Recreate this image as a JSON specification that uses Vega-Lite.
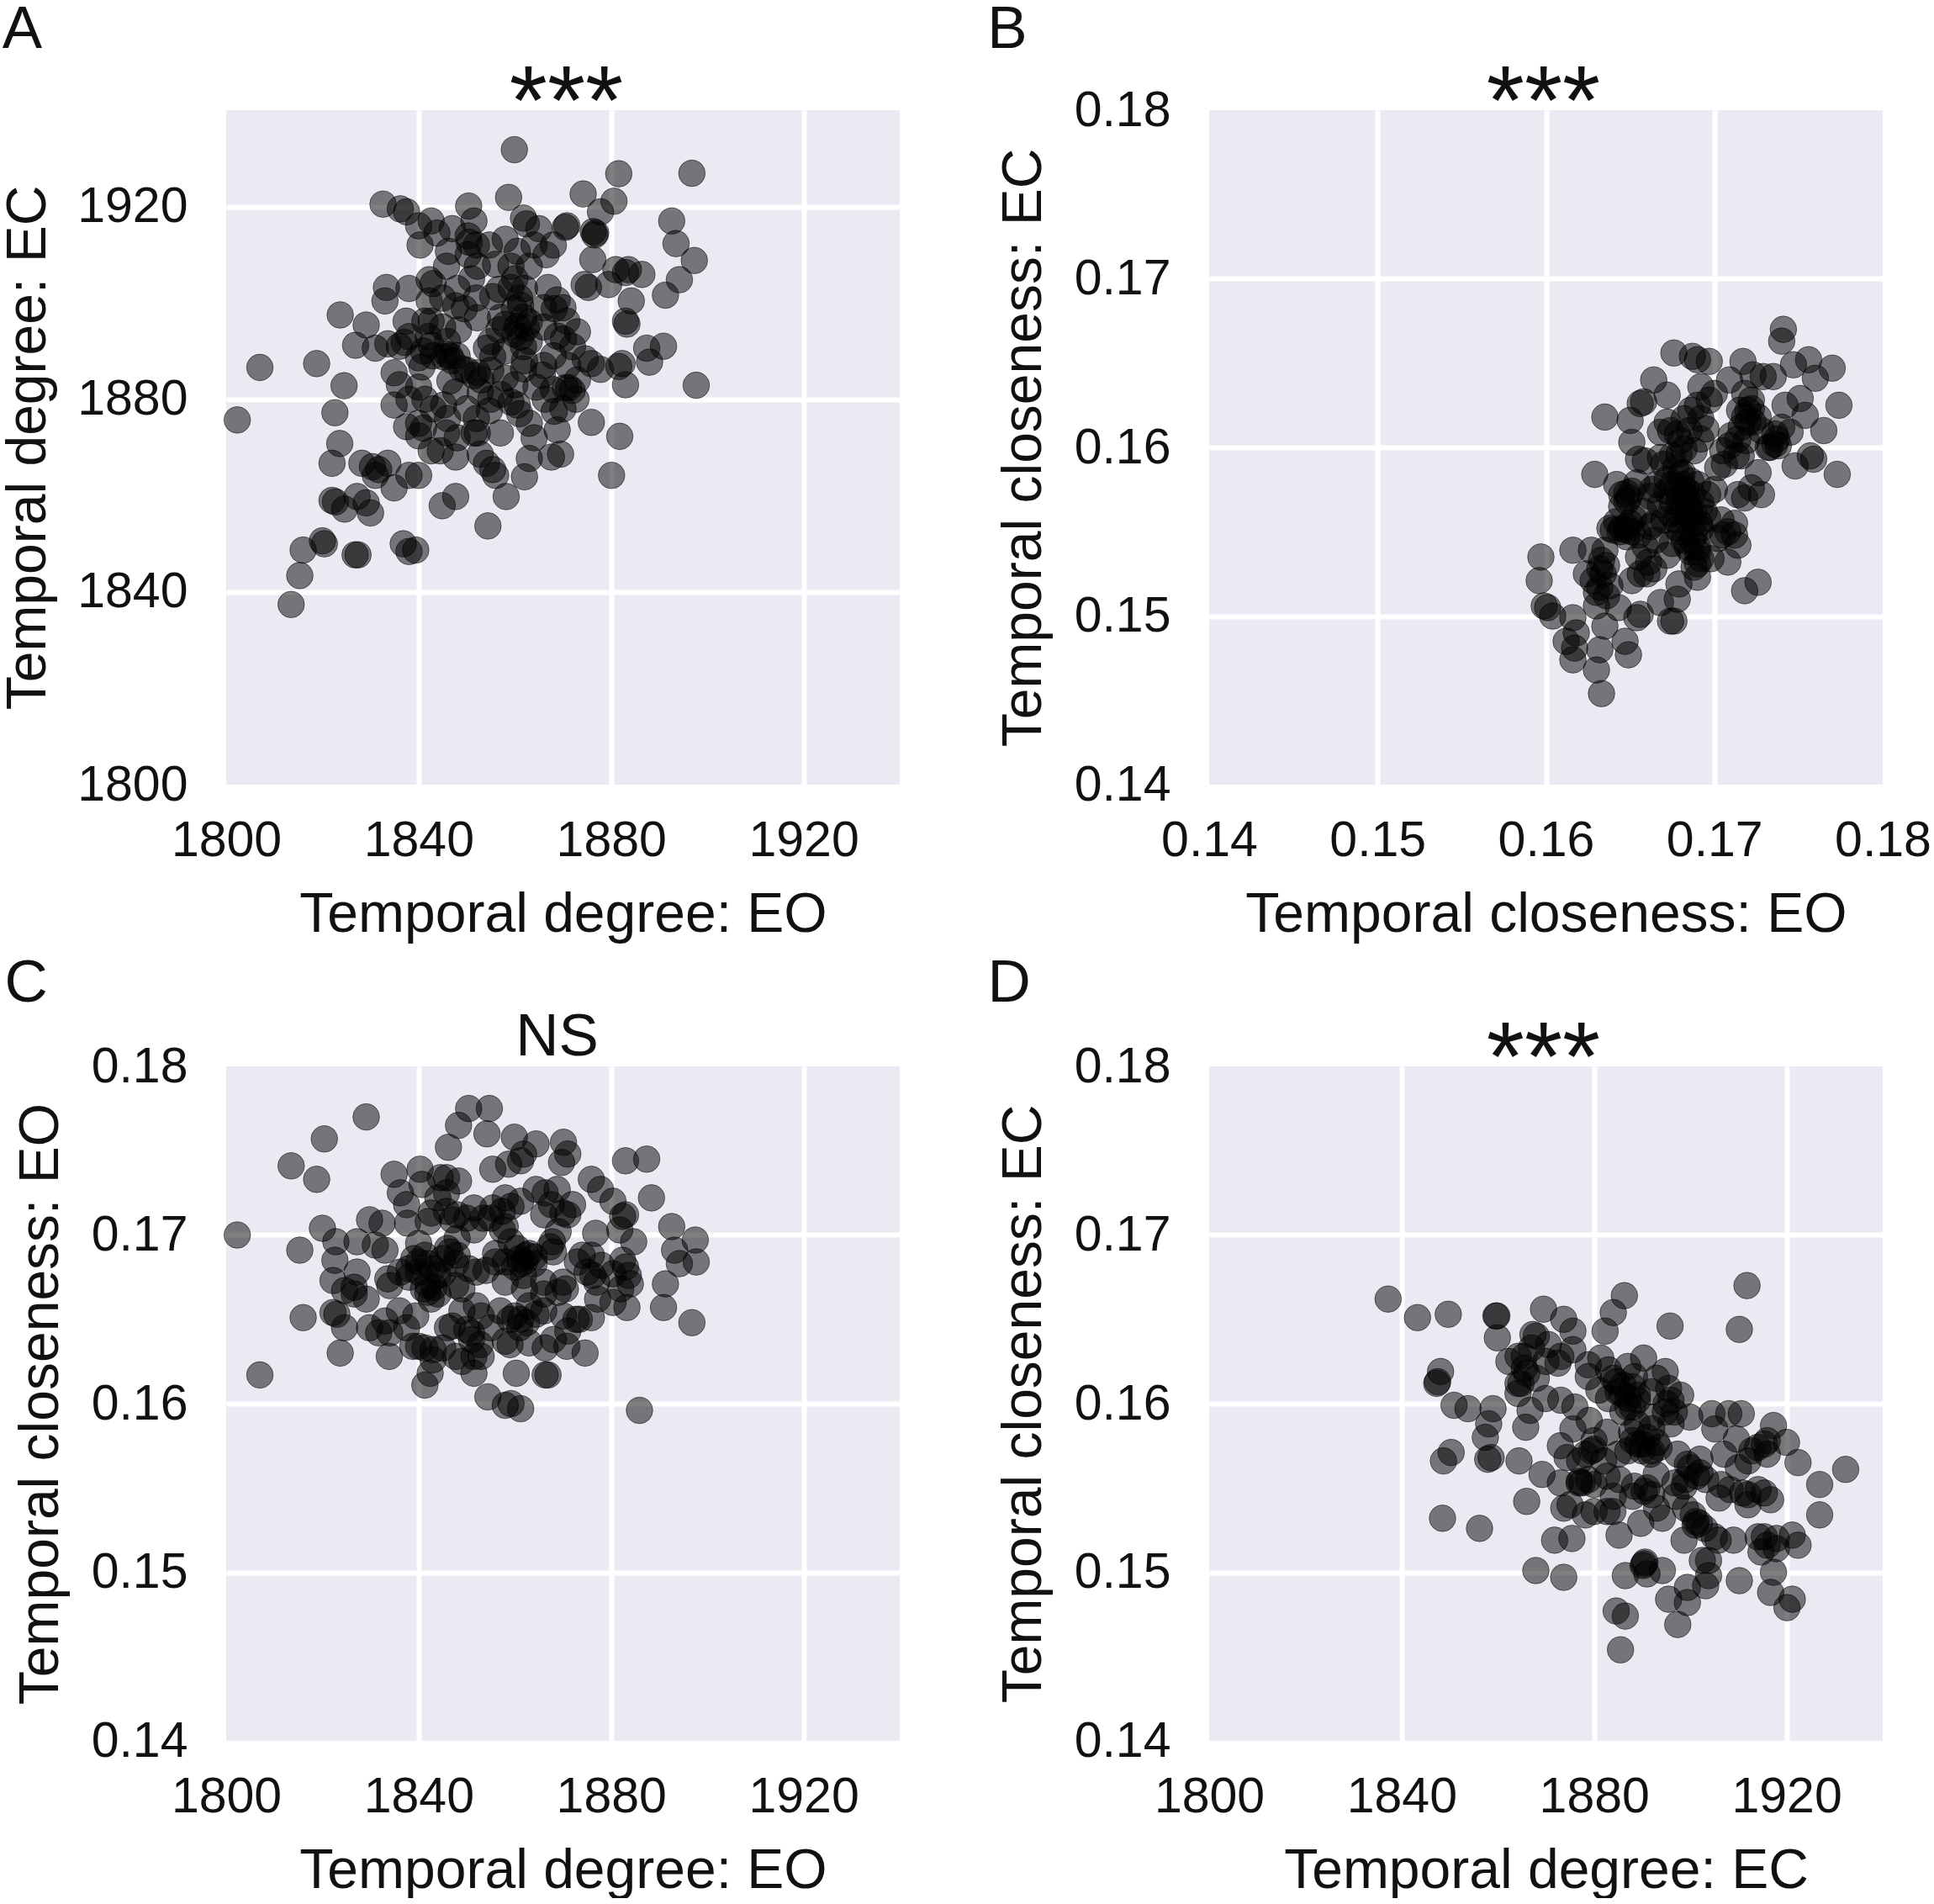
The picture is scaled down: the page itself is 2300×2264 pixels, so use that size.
{"$schema":"https://vega.github.io/schema/vega-lite/v6.json","background":"white","padding":{"left":0,"top":0,"right":0,"bottom":0},"autosize":{"type":"pad"},
"config":{"font":"Liberation Sans","view":{"fill":"#eaeaf2","stroke":null},"axis":{"domain":false,"ticks":false,"grid":true,"gridColor":"white","gridWidth":6,"labelFont":"Liberation Sans","labelFontSize":59,"labelColor":"#111","titleFont":"Liberation Sans","titleFontSize":66,"titleFontWeight":"normal","titleColor":"#111","labelOverlap":false,"labelBound":false,"labelFlush":false},"axisX":{"labelPadding":37,"titlePadding":26},"axisY":{"labelPadding":46,"titlePadding":26},"title":{"font":"Liberation Sans","fontWeight":"normal","color":"#111"},"circle":{"size":1000,"fill":"black","fillOpacity":0.5,"stroke":"black","strokeOpacity":0.5,"strokeWidth":1,"clip":false}},
"datasets":{
"a":[{"x":1802.3,"y":1875.7},{"x":1807,"y":1886.6},{"x":1813.5,"y":1837.4},{"x":1815.3,"y":1843.4},{"x":1816,"y":1848.7},{"x":1820,"y":1850.6},{"x":1820.4,"y":1850},{"x":1818.8,"y":1887.4},{"x":1823.7,"y":1897.5},{"x":1824.5,"y":1882.8},{"x":1822.6,"y":1877.2},{"x":1823.6,"y":1870.8},{"x":1822,"y":1866.7},{"x":1822,"y":1859},{"x":1822.7,"y":1858.7},{"x":1824.6,"y":1857.2},{"x":1827.2,"y":1859.8},{"x":1829.1,"y":1858.5},{"x":1830,"y":1856.4},{"x":1826.8,"y":1847.7},{"x":1827.4,"y":1847.7},{"x":1828.2,"y":1866.7},{"x":1830.4,"y":1866},{"x":1831.7,"y":1865.4},{"x":1833.6,"y":1866.7},{"x":1831,"y":1864.2},{"x":1834.9,"y":1861.6},{"x":1838,"y":1864.2},{"x":1840,"y":1864.2},{"x":1836.8,"y":1850},{"x":1838,"y":1848.4},{"x":1839.4,"y":1848.7},{"x":1844.9,"y":1857.9},{"x":1847.7,"y":1859.8},{"x":1854.4,"y":1853.7},{"x":1858.2,"y":1859.8},{"x":1862,"y":1863.9},{"x":1863,"y":1867.7},{"x":1880.1,"y":1864.2},{"x":1881.8,"y":1872.3},{"x":1875.9,"y":1875.2},{"x":1897.7,"y":1882.9},{"x":1883,"y":1883},{"x":1882.3,"y":1887.4},{"x":1881.6,"y":1886.8},{"x":1877.8,"y":1886.2},{"x":1875.9,"y":1887.4},{"x":1874.6,"y":1888.4},{"x":1888,"y":1887.7},{"x":1887.4,"y":1890.6},{"x":1890.9,"y":1891},{"x":1883.3,"y":1895.6},{"x":1883,"y":1896.2},{"x":1884.2,"y":1900.4},{"x":1879.5,"y":1903.8},{"x":1881,"y":1906.9},{"x":1883,"y":1906.3},{"x":1883.6,"y":1906.9},{"x":1886.4,"y":1905.9},{"x":1875.3,"y":1903.2},{"x":1874.4,"y":1903.8},{"x":1876.2,"y":1909},{"x":1876.8,"y":1914.5},{"x":1876.6,"y":1914.1},{"x":1876.3,"y":1914.8},{"x":1877.8,"y":1918.9},{"x":1880.6,"y":1921.1},{"x":1881.6,"y":1926.8},{"x":1874.2,"y":1922.6},{"x":1896.8,"y":1926.9},{"x":1892.6,"y":1917},{"x":1893.5,"y":1912.3},{"x":1897.3,"y":1908.8},{"x":1894.2,"y":1904.8},{"x":1891.3,"y":1901.6},{"x":1859.9,"y":1931.8},{"x":1858.7,"y":1921.9},{"x":1850.4,"y":1920.1},{"x":1832.6,"y":1920.5},{"x":1836.2,"y":1919.5},{"x":1837.5,"y":1918.9},{"x":1840,"y":1916},{"x":1842.6,"y":1917},{"x":1840.3,"y":1912},{"x":1843.8,"y":1914.5},{"x":1847,"y":1915.4},{"x":1851.5,"y":1917},{"x":1850.3,"y":1913.9},{"x":1850.5,"y":1912.6},{"x":1850.3,"y":1910},{"x":1846.2,"y":1910.7},{"x":1845.8,"y":1907.6},{"x":1854.7,"y":1912},{"x":1852.2,"y":1907.6},{"x":1858,"y":1913.2},{"x":1860.5,"y":1910.7},{"x":1861.8,"y":1917.6},{"x":1862.4,"y":1916.4},{"x":1865,"y":1915.4},{"x":1866.5,"y":1910},{"x":1863,"y":1907.6},{"x":1859.2,"y":1907.6},{"x":1870.8,"y":1916},{"x":1870.5,"y":1915.7},{"x":1866.9,"y":1903.2},{"x":1868.8,"y":1900.6},{"x":1868.2,"y":1898.8},{"x":1870.8,"y":1896.2},{"x":1870.1,"y":1892.5},{"x":1868.8,"y":1893.1},{"x":1872,"y":1890.9},{"x":1859.2,"y":1903.2},{"x":1856.7,"y":1902.8},{"x":1855.4,"y":1901.3},{"x":1861.2,"y":1899.5},{"x":1861.8,"y":1897},{"x":1860.5,"y":1895.1},{"x":1862.4,"y":1894.8},{"x":1861.2,"y":1892.9},{"x":1863,"y":1896},{"x":1859.9,"y":1898.8},{"x":1861.8,"y":1890.9},{"x":1860,"y":1893.5},{"x":1863,"y":1892},{"x":1858,"y":1895.5},{"x":1833.3,"y":1903.2},{"x":1833,"y":1900.4},{"x":1842.2,"y":1904.8},{"x":1843,"y":1904},{"x":1842.2,"y":1900.4},{"x":1842.6,"y":1896.2},{"x":1841.3,"y":1896.2},{"x":1837.4,"y":1896.2},{"x":1829.1,"y":1895.4},{"x":1826.9,"y":1891.2},{"x":1831,"y":1890.6},{"x":1833.6,"y":1891.5},{"x":1837,"y":1891.8},{"x":1834.9,"y":1885.5},{"x":1840,"y":1888.6},{"x":1840.7,"y":1886.7},{"x":1842.6,"y":1891.2},{"x":1845.8,"y":1889.4},{"x":1845.2,"y":1888.8},{"x":1846.5,"y":1889},{"x":1852.2,"y":1885.5},{"x":1851.5,"y":1884.9},{"x":1871.2,"y":1882.4},{"x":1871.9,"y":1881.8},{"x":1870.5,"y":1882.4},{"x":1834.9,"y":1878.8},{"x":1837.5,"y":1874.3},{"x":1840,"y":1872.4},{"x":1842.6,"y":1869.3},{"x":1844.5,"y":1869.3},{"x":1847.7,"y":1868},{"x":1845.8,"y":1873},{"x":1852.2,"y":1873},{"x":1851.5,"y":1873},{"x":1852.8,"y":1868.6},{"x":1854.1,"y":1866.7},{"x":1855.4,"y":1865.4},{"x":1856,"y":1864.2},{"x":1869.5,"y":1868.6},{"x":1867.6,"y":1868},{"x":1868.8,"y":1873.6},{"x":1872.7,"y":1880},{"x":1863,"y":1875},{"x":1860.5,"y":1878.8},{"x":1859.2,"y":1879.4},{"x":1854.7,"y":1877.6},{"x":1852.8,"y":1881.5},{"x":1847.7,"y":1881.5},{"x":1845.2,"y":1878.8},{"x":1841.3,"y":1880},{"x":1840,"y":1882.5},{"x":1846.5,"y":1883.8},{"x":1849,"y":1886.3},{"x":1855.4,"y":1888.8},{"x":1854.1,"y":1890.6},{"x":1858,"y":1884.4},{"x":1861.8,"y":1886.3},{"x":1864.4,"y":1882.5},{"x":1865.7,"y":1885},{"x":1866.3,"y":1880},{"x":1868.2,"y":1877.5},{"x":1847.7,"y":1899.4},{"x":1848.3,"y":1894.4},{"x":1852.2,"y":1896.9},{"x":1849.5,"y":1898.8},{"x":1856.7,"y":1894.4},{"x":1845,"y":1895},{"x":1838,"y":1893},{"x":1842,"y":1893},{"x":1846,"y":1892},{"x":1843,"y":1889},{"x":1841,"y":1890},{"x":1848,"y":1889},{"x":1847,"y":1888},{"x":1850,"y":1886},{"x":1853,"y":1884},{"x":1855,"y":1886},{"x":1858,"y":1890},{"x":1855,"y":1892},{"x":1857,"y":1897},{"x":1861,"y":1901},{"x":1862,"y":1903},{"x":1866,"y":1899},{"x":1866,"y":1895},{"x":1870,"y":1899},{"x":1873,"y":1894},{"x":1868,"y":1889},{"x":1871,"y":1887},{"x":1873,"y":1884},{"x":1866,"y":1887},{"x":1862,"y":1888},{"x":1860,"y":1883},{"x":1857,"y":1881},{"x":1855,"y":1880},{"x":1850,"y":1878},{"x":1846,"y":1876},{"x":1843,"y":1878},{"x":1841,"y":1874},{"x":1838,"y":1880},{"x":1836,"y":1883},{"x":1840,"y":1875},{"x":1848,"y":1872},{"x":1852,"y":1876},{"x":1857,"y":1873},{"x":1861,"y":1877},{"x":1864,"y":1872},{"x":1868,"y":1882},{"x":1870,"y":1878},{"x":1856,"y":1908},{"x":1860,"y":1905},{"x":1864,"y":1912},{"x":1868,"y":1912},{"x":1852,"y":1912},{"x":1848,"y":1903},{"x":1845,"y":1901},{"x":1852,"y":1901},{"x":1838,"y":1903},{"x":1836,"y":1891},{"x":1851,"y":1905}],
"b":[{"x":0.1597,"y":0.1535},{"x":0.1596,"y":0.1521},{"x":0.1599,"y":0.1506},{"x":0.1601,"y":0.1505},{"x":0.1604,"y":0.15},{"x":0.1616,"y":0.1539},{"x":0.1635,"y":0.1618},{"x":0.1629,"y":0.1584},{"x":0.1651,"y":0.1603},{"x":0.165,"y":0.1616},{"x":0.1656,"y":0.1626},{"x":0.1658,"y":0.1627},{"x":0.1664,"y":0.164},{"x":0.1672,"y":0.1631},{"x":0.1676,"y":0.1656},{"x":0.1687,"y":0.1654},{"x":0.169,"y":0.1652},{"x":0.1697,"y":0.1651},{"x":0.1692,"y":0.1636},{"x":0.17,"y":0.1632},{"x":0.1709,"y":0.164},{"x":0.1717,"y":0.1651},{"x":0.1723,"y":0.1643},{"x":0.1729,"y":0.1642},{"x":0.1735,"y":0.1642},{"x":0.1741,"y":0.167},{"x":0.174,"y":0.1663},{"x":0.1747,"y":0.1649},{"x":0.1756,"y":0.1652},{"x":0.176,"y":0.1641},{"x":0.177,"y":0.1647},{"x":0.1774,"y":0.1625},{"x":0.1765,"y":0.161},{"x":0.1773,"y":0.1584},{"x":0.1759,"y":0.1593},{"x":0.1757,"y":0.1595},{"x":0.1748,"y":0.1589},{"x":0.1754,"y":0.1619},{"x":0.1751,"y":0.1629},{"x":0.1742,"y":0.1625},{"x":0.174,"y":0.1612},{"x":0.1745,"y":0.1609},{"x":0.1736,"y":0.1602},{"x":0.1732,"y":0.16},{"x":0.1737,"y":0.1605},{"x":0.1726,"y":0.1618},{"x":0.1726,"y":0.152},{"x":0.1718,"y":0.1515},{"x":0.1633,"y":0.1454},{"x":0.163,"y":0.1468},{"x":0.1632,"y":0.148},{"x":0.1647,"y":0.1485},{"x":0.1649,"y":0.1477},{"x":0.1616,"y":0.1474},{"x":0.1617,"y":0.1481},{"x":0.1612,"y":0.1485},{"x":0.1618,"y":0.149},{"x":0.1616,"y":0.1499},{"x":0.1635,"y":0.1494},{"x":0.1643,"y":0.1505},{"x":0.163,"y":0.1506},{"x":0.1654,"y":0.1499},{"x":0.1656,"y":0.1501},{"x":0.1668,"y":0.1508},{"x":0.1674,"y":0.1497},{"x":0.1676,"y":0.1497},{"x":0.1678,"y":0.151},{"x":0.1679,"y":0.1519},{"x":0.169,"y":0.1523},{"x":0.163,"y":0.1514},{"x":0.1628,"y":0.1521},{"x":0.1632,"y":0.1528},{"x":0.1636,"y":0.153},{"x":0.1624,"y":0.1525},{"x":0.1627,"y":0.1539},{"x":0.1635,"y":0.1539},{"x":0.1633,"y":0.1533},{"x":0.1651,"y":0.1521},{"x":0.166,"y":0.1525},{"x":0.1656,"y":0.1525},{"x":0.1648,"y":0.1547},{"x":0.1638,"y":0.1552},{"x":0.164,"y":0.1551},{"x":0.1645,"y":0.1552},{"x":0.1642,"y":0.1556},{"x":0.1648,"y":0.1553},{"x":0.1652,"y":0.1558},{"x":0.1645,"y":0.1572},{"x":0.1648,"y":0.1573},{"x":0.1651,"y":0.1574},{"x":0.1642,"y":0.1578},{"x":0.1654,"y":0.1579},{"x":0.1648,"y":0.1568},{"x":0.1655,"y":0.1593},{"x":0.1659,"y":0.1592},{"x":0.1663,"y":0.1575},{"x":0.1668,"y":0.1566},{"x":0.1672,"y":0.1581},{"x":0.1675,"y":0.1568},{"x":0.1677,"y":0.1557},{"x":0.1679,"y":0.1561},{"x":0.168,"y":0.155},{"x":0.1682,"y":0.1572},{"x":0.1685,"y":0.1565},{"x":0.1688,"y":0.1555},{"x":0.1687,"y":0.1545},{"x":0.1684,"y":0.1541},{"x":0.169,"y":0.1538},{"x":0.1692,"y":0.1534},{"x":0.169,"y":0.1531},{"x":0.1698,"y":0.1534},{"x":0.1696,"y":0.1572},{"x":0.1692,"y":0.1567},{"x":0.169,"y":0.1578},{"x":0.1686,"y":0.158},{"x":0.168,"y":0.1584},{"x":0.1677,"y":0.1588},{"x":0.1679,"y":0.1596},{"x":0.1675,"y":0.1595},{"x":0.1682,"y":0.1599},{"x":0.1668,"y":0.1594},{"x":0.1668,"y":0.1609},{"x":0.1674,"y":0.161},{"x":0.1678,"y":0.1608},{"x":0.1686,"y":0.1622},{"x":0.169,"y":0.1625},{"x":0.1692,"y":0.1617},{"x":0.1695,"y":0.1611},{"x":0.1697,"y":0.1628},{"x":0.1705,"y":0.1598},{"x":0.1709,"y":0.1601},{"x":0.1713,"y":0.1595},{"x":0.1714,"y":0.1605},{"x":0.1716,"y":0.1612},{"x":0.1718,"y":0.1618},{"x":0.172,"y":0.1622},{"x":0.1722,"y":0.1628},{"x":0.1718,"y":0.1632},{"x":0.1723,"y":0.1615},{"x":0.1726,"y":0.1585},{"x":0.1722,"y":0.1576},{"x":0.1728,"y":0.1572},{"x":0.1718,"y":0.157},{"x":0.1714,"y":0.1572},{"x":0.1712,"y":0.1555},{"x":0.1708,"y":0.155},{"x":0.1705,"y":0.1548},{"x":0.1702,"y":0.1546},{"x":0.1714,"y":0.1542},{"x":0.1708,"y":0.1532},{"x":0.1702,"y":0.1588},{"x":0.17,"y":0.1575},{"x":0.1664,"y":0.1555},{"x":0.1659,"y":0.1541},{"x":0.1664,"y":0.1528},{"x":0.1672,"y":0.1536},{"x":0.1675,"y":0.1543},{"x":0.1662,"y":0.1571},{"x":0.1682,"y":0.1563},{"x":0.1684,"y":0.1556},{"x":0.1687,"y":0.1572},{"x":0.1679,"y":0.1569},{"x":0.1683,"y":0.1575},{"x":0.1688,"y":0.1561},{"x":0.1691,"y":0.1555},{"x":0.1681,"y":0.1578},{"x":0.1645,"y":0.1565},{"x":0.1649,"y":0.157},{"x":0.165,"y":0.1555},{"x":0.1644,"y":0.155},{"x":0.1648,"y":0.1551},{"x":0.1651,"y":0.155},{"x":0.1655,"y":0.1548},{"x":0.1658,"y":0.1562},{"x":0.1662,"y":0.1553},{"x":0.1666,"y":0.1578},{"x":0.167,"y":0.159},{"x":0.1672,"y":0.1574},{"x":0.1675,"y":0.1578},{"x":0.1678,"y":0.1575},{"x":0.1681,"y":0.1585},{"x":0.1684,"y":0.1569},{"x":0.1686,"y":0.1561},{"x":0.1688,"y":0.1548},{"x":0.1692,"y":0.1552},{"x":0.1694,"y":0.1562},{"x":0.1696,"y":0.1558},{"x":0.1678,"y":0.1552},{"x":0.1682,"y":0.1545},{"x":0.1686,"y":0.1538},{"x":0.1688,"y":0.1529},{"x":0.169,"y":0.1541},{"x":0.1674,"y":0.1561},{"x":0.167,"y":0.1557},{"x":0.1665,"y":0.1545},{"x":0.1661,"y":0.1532},{"x":0.1655,"y":0.1535},{"x":0.1638,"y":0.1518},{"x":0.1636,"y":0.1512},{"x":0.1634,"y":0.1525},{"x":0.1632,"y":0.1517},{"x":0.1706,"y":0.159},{"x":0.171,"y":0.1607},{"x":0.1716,"y":0.1595},{"x":0.1719,"y":0.1604},{"x":0.1722,"y":0.1623},{"x":0.172,"y":0.1615},{"x":0.1715,"y":0.1622},{"x":0.1728,"y":0.161},{"x":0.1733,"y":0.16},{"x":0.1736,"y":0.1608},{"x":0.1738,"y":0.1601},{"x":0.1704,"y":0.1557},{"x":0.1712,"y":0.1548},{"x":0.1685,"y":0.161},{"x":0.1688,"y":0.1598},{"x":0.1692,"y":0.1605},{"x":0.1682,"y":0.1617},{"x":0.1672,"y":0.1615},{"x":0.168,"y":0.1604}],
"c":[{"x":1802.3,"y":0.17},{"x":1807,"y":0.1617},{"x":1813.5,"y":0.1741},{"x":1815.3,"y":0.1691},{"x":1816,"y":0.1651},{"x":1818.8,"y":0.1733},{"x":1820.4,"y":0.1757},{"x":1829.1,"y":0.177},{"x":1820,"y":0.1704},{"x":1822.8,"y":0.1696},{"x":1822.6,"y":0.1685},{"x":1822.2,"y":0.1673},{"x":1822.2,"y":0.1654},{"x":1823.7,"y":0.163},{"x":1824.6,"y":0.1645},{"x":1823,"y":0.1653},{"x":1824.6,"y":0.1667},{"x":1826.6,"y":0.1669},{"x":1827.2,"y":0.1678},{"x":1827.2,"y":0.1696},{"x":1826.6,"y":0.1665},{"x":1829.1,"y":0.1662},{"x":1829.8,"y":0.1709},{"x":1832.4,"y":0.1707},{"x":1831,"y":0.1694},{"x":1833,"y":0.1691},{"x":1829.8,"y":0.1645},{"x":1831.7,"y":0.1642},{"x":1833,"y":0.1649},{"x":1833.9,"y":0.1628},{"x":1833.6,"y":0.1674},{"x":1834,"y":0.167},{"x":1834.9,"y":0.1736},{"x":1836.2,"y":0.1725},{"x":1837.5,"y":0.1718},{"x":1837.7,"y":0.1707},{"x":1840.3,"y":0.1739},{"x":1840.7,"y":0.173},{"x":1842.6,"y":0.1713},{"x":1845.8,"y":0.1734},{"x":1844.5,"y":0.1734},{"x":1848.3,"y":0.1732},{"x":1845.8,"y":0.1725},{"x":1845.8,"y":0.1714},{"x":1847,"y":0.1709},{"x":1846.2,"y":0.1752},{"x":1848.3,"y":0.1765},{"x":1850.4,"y":0.1775},{"x":1854.7,"y":0.1775},{"x":1854.2,"y":0.176},{"x":1859.9,"y":0.1758},{"x":1864.4,"y":0.1754},{"x":1861.8,"y":0.1748},{"x":1870.1,"y":0.1755},{"x":1871,"y":0.1748},{"x":1869.7,"y":0.1743},{"x":1861.2,"y":0.1744},{"x":1858.7,"y":0.1742},{"x":1855.4,"y":0.1739},{"x":1875.9,"y":0.1733},{"x":1877.8,"y":0.1727},{"x":1880.4,"y":0.172},{"x":1883,"y":0.1744},{"x":1887.4,"y":0.1745},{"x":1888.4,"y":0.1722},{"x":1883,"y":0.1712},{"x":1882.4,"y":0.1711},{"x":1881.8,"y":0.1703},{"x":1884.7,"y":0.1696},{"x":1892.6,"y":0.1705},{"x":1897.5,"y":0.1697},{"x":1893.2,"y":0.1691},{"x":1894.2,"y":0.1683},{"x":1897.7,"y":0.1684},{"x":1891.3,"y":0.1671},{"x":1890.9,"y":0.1657},{"x":1896.8,"y":0.1648},{"x":1885.9,"y":0.1596},{"x":1883.3,"y":0.1657},{"x":1880.4,"y":0.166},{"x":1877.2,"y":0.1662},{"x":1875.9,"y":0.1651},{"x":1874.6,"y":0.163},{"x":1870.8,"y":0.1634},{"x":1873.4,"y":0.165},{"x":1866.9,"y":0.1617},{"x":1866.3,"y":0.1617},{"x":1866.3,"y":0.1633},{"x":1860.3,"y":0.1618},{"x":1861.2,"y":0.1597},{"x":1859.2,"y":0.16},{"x":1858,"y":0.1599},{"x":1854.4,"y":0.1604},{"x":1851.5,"y":0.1618},{"x":1841.3,"y":0.1611},{"x":1842.4,"y":0.1618},{"x":1840,"y":0.1634},{"x":1841.3,"y":0.1633},{"x":1843,"y":0.1632},{"x":1838.8,"y":0.1634},{"x":1847.7,"y":0.1628},{"x":1849,"y":0.1625},{"x":1851,"y":0.1642},{"x":1852.8,"y":0.1635},{"x":1851.5,"y":0.1628},{"x":1850,"y":0.1644},{"x":1853,"y":0.1652},{"x":1847,"y":0.1646},{"x":1858,"y":0.1637},{"x":1860,"y":0.1652},{"x":1861.2,"y":0.165},{"x":1862.4,"y":0.1648},{"x":1863,"y":0.1636},{"x":1864.4,"y":0.1653},{"x":1859,"y":0.165},{"x":1866,"y":0.1655},{"x":1870.1,"y":0.1652},{"x":1872.7,"y":0.165},{"x":1869,"y":0.1666},{"x":1870.5,"y":0.1668},{"x":1875,"y":0.1678},{"x":1876.2,"y":0.1676},{"x":1875.9,"y":0.1688},{"x":1876.8,"y":0.1701},{"x":1873,"y":0.1684},{"x":1868,"y":0.169},{"x":1867.3,"y":0.1693},{"x":1864,"y":0.1683},{"x":1862.4,"y":0.1688},{"x":1861.2,"y":0.1683},{"x":1860.5,"y":0.1692},{"x":1859.2,"y":0.1696},{"x":1861.8,"y":0.1676},{"x":1858,"y":0.1672},{"x":1856,"y":0.1689},{"x":1857.4,"y":0.1703},{"x":1854,"y":0.1679},{"x":1850.4,"y":0.168},{"x":1846.5,"y":0.169},{"x":1847.7,"y":0.1683},{"x":1845,"y":0.1686},{"x":1841.3,"y":0.1688},{"x":1839,"y":0.1686},{"x":1838,"y":0.168},{"x":1840,"y":0.1678},{"x":1842,"y":0.1683},{"x":1836.2,"y":0.1678},{"x":1841.9,"y":0.1666},{"x":1842.6,"y":0.1662},{"x":1843.2,"y":0.1669},{"x":1844,"y":0.1676},{"x":1847.7,"y":0.167},{"x":1839.4,"y":0.1652},{"x":1837.5,"y":0.1645},{"x":1851.5,"y":0.1703},{"x":1855.4,"y":0.1716},{"x":1851.5,"y":0.1716},{"x":1853.4,"y":0.171},{"x":1857.4,"y":0.1714},{"x":1859.2,"y":0.1717},{"x":1861.2,"y":0.172},{"x":1864.4,"y":0.1727},{"x":1866.3,"y":0.1725},{"x":1867.6,"y":0.1718},{"x":1868.8,"y":0.1727},{"x":1870,"y":0.1713},{"x":1871,"y":0.1712},{"x":1867.8,"y":0.1696},{"x":1882.4,"y":0.1685},{"x":1883,"y":0.1681},{"x":1883.6,"y":0.1676},{"x":1880.4,"y":0.1677},{"x":1861,"y":0.1686},{"x":1862,"y":0.1684},{"x":1863,"y":0.1689},{"x":1860,"y":0.1681},{"x":1864,"y":0.1687},{"x":1858,"y":0.1684},{"x":1852,"y":0.1678},{"x":1856,"y":0.1684},{"x":1843,"y":0.168},{"x":1845,"y":0.1677},{"x":1841,"y":0.1668},{"x":1842,"y":0.167},{"x":1844,"y":0.1665},{"x":1840,"y":0.1684},{"x":1838,"y":0.1675},{"x":1846,"y":0.1692},{"x":1848,"y":0.1688},{"x":1849,"y":0.1668},{"x":1849,"y":0.1655},{"x":1851,"y":0.1638},{"x":1853,"y":0.1628},{"x":1855,"y":0.1645},{"x":1859,"y":0.1635},{"x":1861,"y":0.1645},{"x":1863,"y":0.1658},{"x":1862,"y":0.1668},{"x":1866,"y":0.1672},{"x":1870,"y":0.1672},{"x":1866,"y":0.1712},{"x":1869,"y":0.1702},{"x":1872,"y":0.1718},{"x":1874,"y":0.1688},{"x":1878,"y":0.1682},{"x":1877,"y":0.1672},{"x":1882,"y":0.1668},{"x":1884,"y":0.1671},{"x":1836,"y":0.1655},{"x":1834,"y":0.1642},{"x":1840,"y":0.1695},{"x":1842,"y":0.1708},{"x":1848,"y":0.1698},{"x":1850,"y":0.171},{"x":1844,"y":0.1722},{"x":1848,"y":0.1712},{"x":1855,"y":0.171},{"x":1858,"y":0.1705},{"x":1858,"y":0.1722},{"x":1866,"y":0.1665},{"x":1871,"y":0.1643},{"x":1868,"y":0.1638},{"x":1846,"y":0.1645},{"x":1845,"y":0.1633},{"x":1843,"y":0.1626},{"x":1852,"y":0.1658},{"x":1857,"y":0.1655}],
"d":[{"x":1837.2,"y":0.1662},{"x":1843.3,"y":0.1651},{"x":1849.7,"y":0.1653},{"x":1859.6,"y":0.1652},{"x":1859.8,"y":0.1652},{"x":1859.9,"y":0.1639},{"x":1848.1,"y":0.1619},{"x":1847.5,"y":0.1613},{"x":1847.3,"y":0.1612},{"x":1850.9,"y":0.1599},{"x":1853.8,"y":0.1597},{"x":1859,"y":0.1597},{"x":1858.1,"y":0.1588},{"x":1857.4,"y":0.158},{"x":1850.3,"y":0.1571},{"x":1848.7,"y":0.1566},{"x":1857.9,"y":0.1567},{"x":1858.6,"y":0.1568},{"x":1848.5,"y":0.1532},{"x":1856.2,"y":0.1526},{"x":1864.4,"y":0.1566},{"x":1865.8,"y":0.1586},{"x":1866.7,"y":0.1596},{"x":1869.9,"y":0.1603},{"x":1873.1,"y":0.1602},{"x":1864.2,"y":0.1606},{"x":1864.8,"y":0.1612},{"x":1864.2,"y":0.1612},{"x":1865.5,"y":0.1621},{"x":1865.5,"y":0.1628},{"x":1864.2,"y":0.1628},{"x":1862.3,"y":0.1625},{"x":1869.5,"y":0.1656},{"x":1867.3,"y":0.1641},{"x":1868,"y":0.164},{"x":1870.5,"y":0.1635},{"x":1873.1,"y":0.1628},{"x":1872.5,"y":0.1624},{"x":1873.7,"y":0.165},{"x":1875.6,"y":0.1643},{"x":1875.6,"y":0.1632},{"x":1882.3,"y":0.1643},{"x":1884,"y":0.1654},{"x":1886.3,"y":0.1664},{"x":1895.8,"y":0.1646},{"x":1910.2,"y":0.1644},{"x":1911.8,"y":0.167},{"x":1932.3,"y":0.1561},{"x":1926.9,"y":0.1552},{"x":1926.9,"y":0.1534},{"x":1922.4,"y":0.1565},{"x":1920,"y":0.1577},{"x":1917.3,"y":0.1587},{"x":1916,"y":0.1578},{"x":1915.4,"y":0.1576},{"x":1912.8,"y":0.1572},{"x":1908,"y":0.1594},{"x":1910.6,"y":0.1594},{"x":1904.5,"y":0.1594},{"x":1905.1,"y":0.1585},{"x":1909.6,"y":0.1579},{"x":1907,"y":0.157},{"x":1899.9,"y":0.1592},{"x":1921.2,"y":0.1522},{"x":1922.4,"y":0.1516},{"x":1917.9,"y":0.152},{"x":1914.1,"y":0.1521},{"x":1915.4,"y":0.1521},{"x":1914.7,"y":0.1512},{"x":1916,"y":0.1516},{"x":1917.9,"y":0.1514},{"x":1917.3,"y":0.15},{"x":1916.7,"y":0.1488},{"x":1921.2,"y":0.1484},{"x":1920.1,"y":0.1479},{"x":1910.2,"y":0.1495},{"x":1903.2,"y":0.1492},{"x":1903.8,"y":0.1507},{"x":1902.5,"y":0.1507},{"x":1903.8,"y":0.1498},{"x":1899.4,"y":0.1491},{"x":1899.4,"y":0.1482},{"x":1895.5,"y":0.1484},{"x":1897.4,"y":0.1469},{"x":1885.5,"y":0.1454},{"x":1884.6,"y":0.1477},{"x":1886.5,"y":0.1474},{"x":1886.5,"y":0.1498},{"x":1890.4,"y":0.1505},{"x":1890.6,"y":0.1506},{"x":1890.2,"y":0.1504},{"x":1894.2,"y":0.1501},{"x":1891,"y":0.1499},{"x":1867.9,"y":0.1501},{"x":1873.7,"y":0.1497},{"x":1871.8,"y":0.1519},{"x":1875.4,"y":0.152},{"x":1866,"y":0.1542},{"x":1869.2,"y":0.1558},{"x":1873,"y":0.1553},{"x":1873.7,"y":0.1538},{"x":1875,"y":0.154},{"x":1878.2,"y":0.1534},{"x":1885.2,"y":0.1522},{"x":1882.7,"y":0.1536},{"x":1883.9,"y":0.1536},{"x":1889.7,"y":0.1529},{"x":1894.2,"y":0.1532},{"x":1876.9,"y":0.1553},{"x":1877.5,"y":0.1553},{"x":1878.8,"y":0.1555},{"x":1882.7,"y":0.1557},{"x":1885.2,"y":0.1555},{"x":1888.4,"y":0.1551},{"x":1891,"y":0.155},{"x":1890.4,"y":0.1548},{"x":1896.8,"y":0.1553},{"x":1898.7,"y":0.1551},{"x":1901.3,"y":0.1557},{"x":1903.2,"y":0.1555},{"x":1900.6,"y":0.1534},{"x":1901.2,"y":0.153},{"x":1901.9,"y":0.1529},{"x":1898.7,"y":0.1519},{"x":1905.8,"y":0.1519},{"x":1909,"y":0.1519},{"x":1906.4,"y":0.1552},{"x":1908.3,"y":0.1549},{"x":1910.9,"y":0.1547},{"x":1914.1,"y":0.1549},{"x":1915.4,"y":0.1547},{"x":1916.7,"y":0.1543},{"x":1879.5,"y":0.1572},{"x":1878.2,"y":0.157},{"x":1874.4,"y":0.1568},{"x":1875.6,"y":0.1585},{"x":1878.8,"y":0.1616},{"x":1881.4,"y":0.1627},{"x":1878.8,"y":0.1623},{"x":1885.8,"y":0.1606},{"x":1887.1,"y":0.1603},{"x":1884.6,"y":0.1613},{"x":1888.4,"y":0.1616},{"x":1890.3,"y":0.1627},{"x":1894.8,"y":0.1619},{"x":1895.5,"y":0.1609},{"x":1894.8,"y":0.1595},{"x":1896.7,"y":0.1595},{"x":1891,"y":0.158},{"x":1889.1,"y":0.1576},{"x":1891.7,"y":0.157},{"x":1887.8,"y":0.1583},{"x":1893.5,"y":0.1574},{"x":1892.9,"y":0.1558},{"x":1882.7,"y":0.1583},{"x":1899.4,"y":0.1564},{"x":1897.4,"y":0.157},{"x":1888,"y":0.1598},{"x":1889,"y":0.1605},{"x":1886,"y":0.1595},{"x":1892,"y":0.1592},{"x":1890,"y":0.1572},{"x":1884,"y":0.1615},{"x":1886,"y":0.1611},{"x":1888,"y":0.161},{"x":1889,"y":0.1602},{"x":1887,"y":0.1598},{"x":1885,"y":0.1607},{"x":1883,"y":0.1603},{"x":1881,"y":0.1608},{"x":1883,"y":0.162},{"x":1887,"y":0.1622},{"x":1892,"y":0.1607},{"x":1893,"y":0.1615},{"x":1896,"y":0.1602},{"x":1895,"y":0.16},{"x":1892,"y":0.1585},{"x":1890,"y":0.1576},{"x":1888,"y":0.1578},{"x":1887,"y":0.1572},{"x":1892,"y":0.1572},{"x":1893,"y":0.1577},{"x":1889,"y":0.1588},{"x":1885,"y":0.157},{"x":1880,"y":0.1573},{"x":1880,"y":0.1578},{"x":1882,"y":0.1566},{"x":1877,"y":0.1554},{"x":1880,"y":0.1552},{"x":1884,"y":0.1545},{"x":1888,"y":0.1545},{"x":1892,"y":0.1546},{"x":1900,"y":0.1562},{"x":1902,"y":0.1567},{"x":1899,"y":0.1555},{"x":1897,"y":0.1545},{"x":1901,"y":0.1528},{"x":1899,"y":0.1538},{"x":1903,"y":0.1526},{"x":1912,"y":0.1546},{"x":1906,"y":0.1544},{"x":1912,"y":0.1566},{"x":1902,"y":0.1559},{"x":1905,"y":0.1521},{"x":1870,"y":0.1625},{"x":1868,"y":0.1615},{"x":1866,"y":0.1618},{"x":1867,"y":0.1633},{"x":1876,"y":0.1598},{"x":1879,"y":0.159},{"x":1877,"y":0.1566},{"x":1873,"y":0.1575},{"x":1880,"y":0.1536},{"x":1896,"y":0.1588},{"x":1898,"y":0.1605},{"x":1912,"y":0.154},{"x":1914,"y":0.1574},{"x":1916,"y":0.157},{"x":1910,"y":0.1562},{"x":1893,"y":0.1538}]
},
"columns":2,"spacing":{"row":335,"column":368},"bounds":"flush","align":"all",
"concat":[
{"width":801,"height":802,"title":{"text":"***","fontSize":116,"offset":-184,"dx":4},"layer":[{"data":{"name":"a"},"mark":"circle","encoding":{"x":{"field":"x","type":"quantitative","scale":{"domain":[1800,1940],"nice":false,"zero":false},"axis":{"values":[1800,1840,1880,1920],"format":"d","title":"Temporal degree: EO","gridOpacity":{"condition":{"test":"datum.value<=1800","value":0},"value":1}}},"y":{"field":"y","type":"quantitative","scale":{"domain":[1800,1940],"nice":false,"zero":false},"axis":{"values":[1800,1840,1880,1920],"format":"d","title":"Temporal degree: EC","titlePadding":24,"gridOpacity":{"condition":{"test":"datum.value<=1800","value":0},"value":1}}}}},{"data":{"values":[{"label":"A"}]},"mark":{"type":"text","fontSize":71,"align":"left","baseline":"alphabetic","color":"#111","clip":false},"encoding":{"text":{"field":"label"},"x":{"datum":1753.45},"y":{"datum":1952.86}}}]},
{"width":801,"height":802,"title":{"text":"***","fontSize":116,"offset":-184,"dx":-3},"layer":[{"data":{"name":"b"},"mark":"circle","encoding":{"x":{"field":"x","type":"quantitative","scale":{"domain":[0.14,0.18],"nice":false,"zero":false},"axis":{"values":[0.14,0.15,0.16,0.17,0.18],"format":".2f","title":"Temporal closeness: EO","gridOpacity":{"condition":{"test":"datum.value<=0.14||datum.value>=0.18","value":0},"value":1}}},"y":{"field":"y","type":"quantitative","scale":{"domain":[0.14,0.18],"nice":false,"zero":false},"axis":{"values":[0.14,0.15,0.16,0.17,0.18],"format":".2f","title":"Temporal closeness: EC","gridOpacity":{"condition":{"test":"datum.value<=0.14||datum.value>=0.18","value":0},"value":1}}}}},{"data":{"values":[{"label":"B"}]},"mark":{"type":"text","fontSize":71,"align":"left","baseline":"alphabetic","color":"#111","clip":false},"encoding":{"text":{"field":"label"},"x":{"datum":0.12683},"y":{"datum":0.18368}}}]},
{"width":801,"height":802,"title":{"text":"NS","fontSize":71,"offset":-136,"dx":-7},"layer":[{"data":{"name":"c"},"mark":"circle","encoding":{"x":{"field":"x","type":"quantitative","scale":{"domain":[1800,1940],"nice":false,"zero":false},"axis":{"values":[1800,1840,1880,1920],"format":"d","title":"Temporal degree: EO","gridOpacity":{"condition":{"test":"datum.value<=1800","value":0},"value":1}}},"y":{"field":"y","type":"quantitative","scale":{"domain":[0.14,0.18],"nice":false,"zero":false},"axis":{"values":[0.14,0.15,0.16,0.17,0.18],"format":".2f","title":"Temporal closeness: EO","gridOpacity":{"condition":{"test":"datum.value<=0.14||datum.value>=0.18","value":0},"value":1}}}}},{"data":{"values":[{"label":"C"}]},"mark":{"type":"text","fontSize":71,"align":"left","baseline":"alphabetic","color":"#111","clip":false},"encoding":{"text":{"field":"label"},"x":{"datum":1753.95},"y":{"datum":0.18385}}}]},
{"width":801,"height":802,"title":{"text":"***","fontSize":116,"offset":-187,"dx":-3},"layer":[{"data":{"name":"d"},"mark":"circle","encoding":{"x":{"field":"x","type":"quantitative","scale":{"domain":[1800,1940],"nice":false,"zero":false},"axis":{"values":[1800,1840,1880,1920],"format":"d","title":"Temporal degree: EC","gridOpacity":{"condition":{"test":"datum.value<=1800","value":0},"value":1}}},"y":{"field":"y","type":"quantitative","scale":{"domain":[0.14,0.18],"nice":false,"zero":false},"axis":{"values":[0.14,0.15,0.16,0.17,0.18],"format":".2f","title":"Temporal closeness: EC","gridOpacity":{"condition":{"test":"datum.value<=0.14||datum.value>=0.18","value":0},"value":1}}}}},{"data":{"values":[{"label":"D"}]},"mark":{"type":"text","fontSize":71,"align":"left","baseline":"alphabetic","color":"#111","clip":false},"encoding":{"text":{"field":"label"},"x":{"datum":1753.95},"y":{"datum":0.18385}}}]}
]}
